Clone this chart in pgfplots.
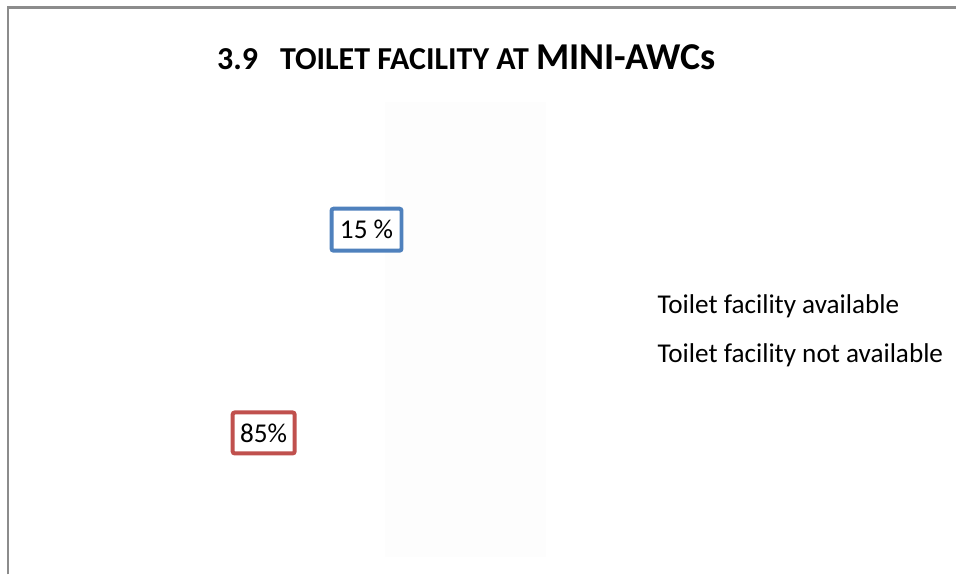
\documentclass[border=0pt]{standalone}
\usepackage{pgfplots}
\pgfplotsset{compat=1.18}
\usepackage{fontspec}
\setmainfont{Carlito}
\definecolor{sliceblue}{HTML}{4F81BD}
\definecolor{slicered}{HTML}{C0504D}
\definecolor{frame}{HTML}{8C8C8C}
\begin{document}
\begin{tikzpicture}
\begin{axis}[
  at={(0,0)}, anchor=south west,
  width=478.5pt, height=287.5pt, scale only axis,
  xmin=0, xmax=957, ymin=0, ymax=575, y dir=reverse,
  hide axis, clip=false,
  legend style={at={(axis cs:654,290.5)}, anchor=north west, draw=none, fill=none,
    font=\fontsize{13.6}{15}\selectfont, row sep=9.5pt, inner sep=0pt,
    nodes={inner sep=2pt}},
  legend cell align=left,
]
\path (axis cs:0,0) rectangle (axis cs:957,575);
\fill[black!0.8] (axis cs:385,102) rectangle (axis cs:547,558);
\draw[frame, line width=1.2pt] (axis cs:8,575) -- (axis cs:8,7.5) -- (axis cs:957,7.5);
\node[anchor=base, font=\bfseries] at (axis cs:467,70)
  {\fontsize{16}{18}\selectfont 3.9\hspace{11pt}TOILET FACILITY AT \fontsize{19}{22}\selectfont MINI-AWCs};
% data labels of the slices (15 % and 85 %)
\addplot[draw=none, mark=none, forget plot, point meta=explicit symbolic,
  nodes near coords,
  nodes near coords style={anchor=center, draw=sliceblue, line width=2pt, rounded corners=1pt,
    fill=white, font=\fontsize{13.6}{15}\selectfont, minimum width=35pt, minimum height=21pt, inner sep=1pt}]
  coordinates {(367,230) [15 \%]};
\addplot[draw=none, mark=none, forget plot, point meta=explicit symbolic,
  nodes near coords,
  nodes near coords style={anchor=center, draw=slicered, line width=2pt, rounded corners=1pt,
    fill=white, font=\fontsize{13.6}{15}\selectfont, minimum width=31pt, minimum height=20.5pt, inner sep=1pt}]
  coordinates {(264,433.5) [85\%]};
\addlegendimage{empty legend}
\addlegendentry{Toilet facility available}
\addlegendimage{empty legend}
\addlegendentry{Toilet facility not available}
\end{axis}
\end{tikzpicture}
\end{document}
